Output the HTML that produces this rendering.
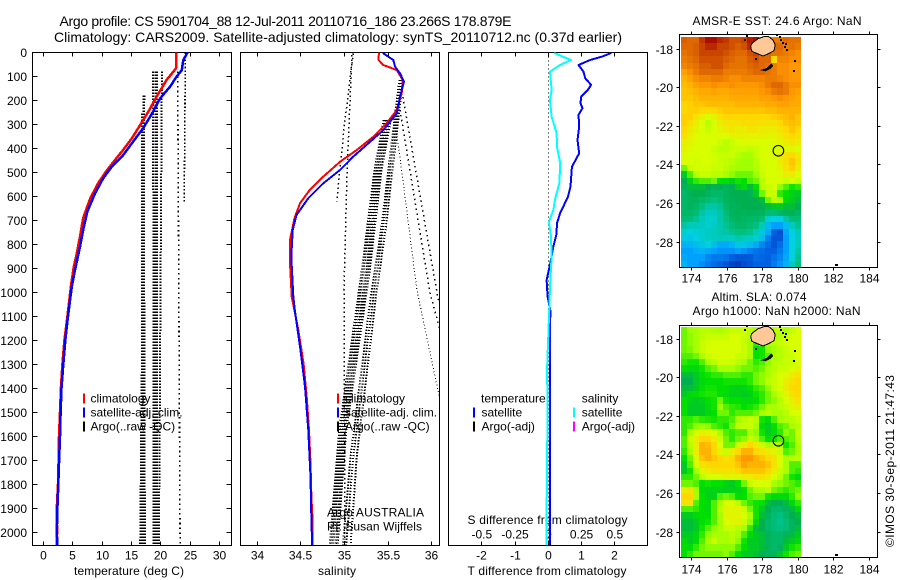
<!DOCTYPE html>
<html lang="en">
<head>
<meta charset="utf-8">
<title>Argo profile</title>
<style>
html,body{margin:0;padding:0;background:#fff;width:900px;height:580px;overflow:hidden}
svg{display:block}
text{font-family:"Liberation Sans",Arial,sans-serif;font-size:12px;fill:#000}
.t14{font-size:14px}
</style>
</head>
<body>
<svg id="fig" xmlns="http://www.w3.org/2000/svg" width="900" height="580" viewBox="0 0 900 580">
<defs>
<clipPath id="clipT"><rect x="32" y="52" width="199" height="493"/></clipPath>
<clipPath id="clipS"><rect x="240" y="52" width="199" height="493"/></clipPath>
<clipPath id="clipD"><rect x="448" y="52" width="199" height="493"/></clipPath>
<clipPath id="clipM1"><rect x="679" y="34" width="198" height="233"/></clipPath>
<clipPath id="clipM2"><rect x="679" y="325" width="198" height="232"/></clipPath>
</defs>
<text class="t14" x="59.5" y="26" textLength="452" lengthAdjust="spacing">Argo profile: CS 5901704_88 12-Jul-2011 20110716_186 23.266S 178.879E</text>
<text class="t14" x="54" y="42" textLength="568" lengthAdjust="spacing">Climatology: CARS2009. Satellite-adjusted climatology: synTS_20110712.nc (0.37d earlier)</text>
<text x="74" y="575" textLength="110" lengthAdjust="spacing">temperature (deg C)</text>
<text x="318" y="575" textLength="38" lengthAdjust="spacing">salinity</text>
<text x="467.5" y="575" textLength="159" lengthAdjust="spacing">T difference from climatology</text>
<text x="467.5" y="524" textLength="160" lengthAdjust="spacing">S difference from climatology</text>
<text x="327" y="516.5" textLength="97" lengthAdjust="spacing">Argo AUSTRALIA</text>
<text x="327" y="530.5" textLength="95" lengthAdjust="spacing">PI: Susan Wijffels</text>
<text x="692.5" y="25" textLength="169" lengthAdjust="spacing">AMSR-E SST: 24.6  Argo: NaN</text>
<text x="711.5" y="301" textLength="95" lengthAdjust="spacing">Altim. SLA: 0.074</text>
<text x="692.5" y="315" textLength="168" lengthAdjust="spacing">Argo h1000: NaN h2000: NaN</text>
<text transform="translate(894,547) rotate(-90)" textLength="172" lengthAdjust="spacing">©IMOS 30-Sep-2011 21:47:43</text>
</svg>
<script>
/* ---------- chart data ---------- */
const depthTicks = [0,100,200,300,400,500,600,700,800,900,1000,1100,1200,1300,1400,1500,1600,1700,1800,1900,2000];
const tempTicks = [0,5,10,15,20,25,30];
const salTicks = [34,34.5,35,35.5,36];
const salTickLabels = ['34','34.5','35','35.5','36'];
const tDiffTicks = [-2,-1,0,1,2];
const sDiffTicks = [-0.5,-0.25,0,0.25,0.5];
const sDiffTickLabels = ['-0.5','-0.25','0','0.25','0.5'];
const lonTicks = [174,176,178,180,182,184];
const latTicks = [18,20,22,24,26,28];

const tempClimDepth = [0,67,115,185,247,303,358,407,449,493,543,608,690,768,850,892,976,1100,1200,1300,1400,1500,1600,1700,1800,1900,2000,2054];
const tempClim = [22.7,22.6,21,19.3,17.9,16.5,15.1,13.6,12.2,10.8,9.4,8,6.8,6.25,5.6,5.2,4.7,4.1,3.6,3.25,3,2.85,2.67,2.6,2.5,2.3,2.35,2.25];
const tempSatDepth = [0,32,74,102,143,192,247,317,372,435,477,525,588,664,740,810,907,976,1100,1200,1300,1400,1500,1600,1700,1800,1900,2000,2054];
const tempSat = [24.6,23.85,23.6,22.7,21.6,19.9,18.7,17,15.3,13.4,11.65,10.2,8.8,7.5,6.8,6.25,5.4,4.85,4.2,3.75,3.4,3.1,2.95,2.85,2.7,2.55,2.4,2.3,2.4];

const salClimDepth = [0,4,32,53,74,115,171,240,296,352,407,456,518,574,629,692,782,879,1018,1157,1295,1435,1574,1712,1852,1962,2054];
const salClim = [35.395,35.395,35.39,35.445,35.6,35.667,35.656,35.6,35.484,35.33,35.14,34.95,34.757,34.6,34.49,34.425,34.375,34.375,34.395,34.47,34.53,34.566,34.593,34.61,34.62,34.635,34.635];
const salSatDepth = [0,4,32,60,88,122,185,254,324,435,490,546,608,678,740,852,1018,1074,1226,1393,1574,1768,1949,2054];
const salSat = [35.445,35.445,35.56,35.58,35.636,35.682,35.636,35.6,35.445,35.1,34.95,34.757,34.585,34.45,34.406,34.39,34.413,34.43,34.49,34.547,34.585,34.61,34.62,34.63];

const tDiffDepth = [0,4,18,32,53,81,108,136,157,185,212,233,261,310,365,421,477,560,602,671,713,755,810,879,949,1018,1074,1300,2054];
const tDiff = [1.87,1.87,1.62,1.26,0.91,1.06,1.11,1.29,1.19,0.99,0.97,1.03,0.91,0.93,0.88,0.93,0.71,0.67,0.59,0.355,0.26,0.25,0.15,0.06,-0.05,-0.02,0.06,0.05,0.05];
const sDiffDepth = [0,4,32,53,81,129,157,199,268,338,393,463,546,615,657,706,768,852,977,1060,1324,1462,1878,2054];
const sDiff = [0.05,0.05,0.17,0.088,0.013,0.02,0.025,0.013,0.025,0.063,0.065,0.09,0.083,0.05,0.038,0.005,0.02,0.025,0.013,0.008,-0.01,-0.005,-0.012,-0.012];

const argoTempDepthA = [180,2054];
const argoTempDepthB = [255,2054];
const argoTempDepthC = [80,2054];
const argoTempDepthD = [0,630];
const argoTempA1 = [17.2,16.5];
const argoTempA2 = [17.0,16.7];
const argoTempA3 = [16.8,16.9];
const argoTempA4 = [16.9,17.1];
const argoTempA5 = [17.1,17.3];
const argoTempC1 = [18.7,18.8];
const argoTempC2 = [19.1,19.1];
const argoTempC3 = [19.4,19.4];
const argoTempC4 = [20.2,19.7];
const argoTempE = [22.9,23.3];
const argoTempF = [24.2,24];

const argoSalA = [[4,35.10],[300,35.0],[622,34.91]];
const argoSalB = [[11,35.086],[490,35.03],[990,34.994],[2052,35.006]];
const argoSalC1 = [[115,35.63],[740,35.42],[1020,35.30],[1686,35.07],[2054,34.98]];
const argoSalC2 = [[115,35.65],[740,35.44],[1020,35.33],[1686,35.10],[2054,35.02]];
const argoSalC3 = [[115,35.67],[740,35.47],[1020,35.36],[1686,35.14],[2054,35.07]];
const argoSalD1 = [[282,35.45],[503,35.34],[907,35.20],[1574,34.94],[2054,34.83]];
const argoSalD2 = [[282,35.47],[503,35.36],[907,35.22],[1574,34.96],[2054,34.85]];
const argoSalD3 = [[282,35.49],[503,35.38],[907,35.25],[1574,34.98],[2054,34.87]];
const argoSalD4 = [[282,35.51],[503,35.40],[907,35.27],[1574,35.00],[2054,34.90]];
const argoSalD5 = [[282,35.53],[503,35.42],[907,35.29],[1574,35.02],[2054,34.92]];
const argoSalF1 = [[186,35.67],[1020,36.07],[1060,36.1]];
const argoSalF2 = [[336,35.6],[990,35.83],[1449,36.095]];
const argoSalF3 = [[240,35.636],[1003,35.98],[1157,36.095]];

const sstGrid = [
[93,92,92,96,99,99,97,96,94,94,95,98,99,90,90,90,90,92,91,91],
[92,92,93,95,97,97,95,95,94,93,94,97,99,92,92,92,92,90,91,90],
[91,92,93,95,95,95,95,94,93,92,92,94,95,92,92,91,91,90,89,88],
[90,91,92,94,94,94,94,93,92,91,91,93,94,92,92,79,89,89,88,88],
[89,90,91,93,93,94,94,92,91,91,91,92,93,92,91,90,88,88,87,87],
[86,88,90,92,92,92,92,90,90,90,90,91,92,92,91,90,88,88,87,87],
[84,86,88,89,89,90,90,89,88,88,89,89,89,89,90,90,89,88,87,87],
[83,84,86,87,87,88,87,87,88,87,87,87,87,88,90,92,92,90,88,88],
[82,83,84,85,85,86,85,85,86,86,86,86,86,87,88,90,91,90,87,86],
[82,82,83,84,84,84,84,84,85,85,85,85,85,86,86,87,88,87,86,85],
[80,81,82,82,83,83,83,83,83,84,84,84,84,84,85,85,86,86,85,85],
[80,81,81,80,80,80,81,82,82,82,82,82,82,82,83,83,84,84,84,84],
[81,81,78,75,72,75,78,80,80,80,80,80,80,80,80,81,82,83,84,82],
[81,79,76,72,68,72,76,78,78,78,79,79,79,78,78,78,80,82,83,82],
[80,77,74,72,70,72,74,76,77,76,76,78,77,76,76,76,78,80,82,80],
[78,75,73,72,72,72,73,72,74,74,75,74,74,75,74,74,76,78,80,78],
[75,74,73,72,72,72,70,68,70,72,73,73,73,72,72,73,74,76,77,76],
[74,73,72,72,72,70,68,68,70,70,70,69,70,72,72,72,72,73,74,72],
[73,72,72,72,72,71,70,70,70,68,66,66,70,72,72,72,76,78,79,76],
[72,72,71,72,72,71,70,69,68,66,65,65,68,72,72,72,76,79,82,78],
[62,70,71,71,71,70,70,68,66,65,65,65,67,71,72,72,74,78,81,76],
[52,60,68,70,70,68,68,66,64,62,62,62,65,70,72,72,73,75,76,72],
[48,53,58,60,60,62,55,55,53,56,55,60,62,68,72,72,72,70,72,70],
[46,50,50,50,48,47,48,46,48,52,54,50,55,68,70,72,64,60,56,58],
[44,47,48,48,46,44,44,46,48,48,48,47,52,62,70,70,58,55,53,52],
[44,46,46,44,42,40,42,46,47,48,48,48,48,50,62,68,66,54,52,50],
[44,46,44,40,36,36,38,44,46,47,48,48,48,48,50,52,52,50,50,48],
[44,44,42,36,33,34,36,42,46,47,46,47,46,46,42,42,45,47,47,45],
[42,42,38,34,32,32,36,40,45,46,45,44,44,42,32,30,30,36,42,42],
[36,34,34,33,32,33,35,38,42,44,44,42,40,34,25,20,20,26,34,38],
[31,30,31,32,33,34,35,36,38,40,40,38,34,28,22,10,7,22,30,34],
[29,28,30,32,33,33,34,33,33,35,34,33,32,26,15,8,8,20,30,33],
[24,24,26,28,30,26,22,22,24,28,28,26,22,16,12,8,12,20,30,34],
[20,20,23,24,22,20,18,18,18,20,18,15,13,12,10,10,14,20,30,36],
[22,20,20,20,16,14,14,13,10,8,8,9,12,11,10,13,16,22,30,38],
[24,20,20,17,14,12,10,8,4,3,6,8,10,10,10,14,18,24,34,40]
];

const slaGrid = [
[62,65,66,68,68,67,66,68,70,70,70,68,66,66,68,68,70,66,70,72],
[62,64,66,68,70,70,70,70,72,72,70,68,64,64,66,66,68,70,72,72],
[62,64,66,70,71,72,72,72,72,72,70,66,58,62,66,68,70,72,72,72],
[62,63,66,70,72,72,72,72,72,72,70,66,55,56,64,66,68,70,72,72],
[60,60,62,67,70,72,72,72,72,70,70,66,55,56,60,66,68,70,70,72],
[58,56,56,60,66,68,71,71,70,68,66,62,58,60,64,68,68,70,70,72],
[55,54,54,56,60,62,66,66,66,64,62,62,60,62,66,68,70,70,72,74],
[50,50,52,55,56,58,58,60,60,60,58,58,62,64,66,70,72,73,76,78],
[48,48,52,54,55,55,55,56,56,56,56,58,62,64,68,70,72,76,78,80],
[50,50,52,55,56,56,55,55,53,53,53,55,58,60,64,70,72,76,80,80],
[52,54,55,56,57,57,55,54,53,53,52,53,56,58,62,66,70,74,78,80],
[55,53,52,53,55,56,62,56,55,55,54,54,55,58,62,64,68,72,76,78],
[55,52,52,52,54,56,65,60,58,57,55,56,58,62,66,66,68,70,74,76],
[55,52,52,52,54,55,62,62,58,60,60,60,62,66,68,66,66,68,72,72],
[58,58,60,58,57,56,58,58,60,66,68,70,68,56,54,60,65,67,68,70],
[58,60,64,65,64,60,58,56,62,68,70,70,66,54,52,55,60,62,66,68],
[58,66,72,75,74,72,66,60,58,60,60,66,64,56,52,54,58,64,62,70],
[60,70,76,80,80,76,70,62,58,62,64,70,66,60,55,56,60,60,62,68],
[60,68,76,84,83,80,72,62,62,70,76,80,76,70,66,68,66,56,60,66],
[58,66,76,84,84,80,74,70,76,80,84,84,80,78,76,74,70,60,62,66],
[55,62,74,82,84,82,80,78,80,84,87,87,84,82,80,78,72,66,68,68],
[52,60,72,78,80,80,80,80,80,82,86,84,84,84,82,78,72,66,60,60],
[52,56,66,74,76,78,78,78,78,80,82,82,82,82,80,76,70,66,60,58],
[58,58,62,68,72,72,72,74,74,74,76,76,78,78,76,72,68,62,56,54],
[62,62,60,55,56,55,55,53,52,55,62,70,72,72,72,66,64,62,60,58],
[76,78,66,54,53,53,53,53,53,53,55,62,66,66,68,62,60,58,60,62],
[80,80,66,55,53,53,60,62,60,55,55,60,62,62,56,54,54,54,58,64],
[78,78,60,55,54,60,66,72,72,68,62,58,56,55,50,48,48,50,54,58],
[60,60,58,55,54,60,68,74,74,74,70,62,56,52,48,44,44,46,50,54],
[52,52,54,55,55,60,66,74,74,74,72,66,56,50,46,42,40,44,48,50],
[50,50,52,55,56,60,66,72,74,74,70,64,54,48,44,41,39,42,46,48],
[50,50,52,56,60,64,66,70,70,68,66,58,50,48,44,42,40,42,46,50],
[52,52,54,58,64,66,66,66,68,66,60,54,52,50,46,44,44,46,50,52],
[54,52,54,60,66,70,66,66,68,64,56,52,52,50,46,44,44,50,52,54],
[55,54,58,62,64,64,64,64,64,60,55,52,52,50,46,44,46,52,56,58],
[55,58,62,62,62,62,62,64,60,55,52,52,50,48,46,46,52,56,60,62]
];

const coastLon = [177.32,177.39,177.73,178.07,178.33,178.57,178.70,178.63,178.29,178.01,177.64,177.39];
const coastLat = [17.88,17.71,17.47,17.36,17.36,17.53,17.78,18.09,18.26,18.36,18.22,18.12];
const kadavuLon = [177.97,178.25,178.48,178.56,178.39,178.14];
const kadavuLat = [19.09,19.0,18.78,18.86,19.02,19.13];
const isletLon = [177.62,179.8,179.76,179.23,179.36,178.95,179.05,179.15,177.11,177.0,178.8,179.3,182.1,182.2];
const isletLat = [18.52,18.6,19.15,17.91,18.03,17.4,17.55,17.7,17.31,17.55,17.3,17.75,29.2,29.15];
const argoLon = [178.879];
const argoLat = [23.266];

/* ---------- helpers ---------- */
const NS = 'http://www.w3.org/2000/svg';
const svg = document.getElementById('fig');
function node(tag, attrs, name, parent) {
  const el = document.createElementNS(NS, tag);
  for (const k in attrs) el.setAttribute(k, attrs[k]);
  
  
  (parent || svg).appendChild(el);
  return el;
}
function label(str, x, y, anchor, name) {
  const el = node('text', {x: x, y: y, 'text-anchor': anchor}, name);
  el.textContent = str;
  return el;
}
function seg(x1, y1, x2, y2, name) {
  return node('line', {x1: x1, y1: y1, x2: x2, y2: y2, stroke: '#000', 'stroke-width': 1, 'shape-rendering': 'crispEdges'}, name);
}
function snap(v) { return Math.round(v - 0.5) + 0.5; }

/* axis functions */
const yDepth = d => 52.3 + d * 0.24;
const xTemp = t => 43.3 + t * 5.87;
const xSal = s => 257.3 + (s - 34) * 87.2;
const xTDiff = t => 548.3 + t * 33.2;
const xSDiff = s => 548.3 + s * 133;
const xLon = lon => 691.7 + (lon - 174) * 17.77;
const yLatA = lat => 49 + (lat - 18) * 19.33;
const yLatB = lat => 339 + (lat - 18) * 19.33;

function curve(depths, values, xf, color, width, clip, name) {
  const pts = depths.map((d, i) => xf(values[i]).toFixed(1) + ',' + yDepth(d).toFixed(1)).join(' ');
  return node('polyline', {points: pts, fill: 'none', stroke: color, 'stroke-width': width, 'clip-path': 'url(#' + clip + ')', 'shape-rendering': 'crispEdges', 'stroke-linejoin': 'round'}, name);
}
function dotted(depths, values, xf, clip, name, w, dash) {
  const pts = depths.map((d, i) => xf(values[i]).toFixed(1) + ',' + yDepth(d).toFixed(1)).join(' ');
  return node('polyline', {points: pts, fill: 'none', stroke: '#000', 'stroke-width': w || 2, 'stroke-dasharray': dash || '1.3 1.7', 'clip-path': 'url(#' + clip + ')', 'shape-rendering': 'crispEdges'}, name);
}
function dottedPairs(pairs, xf, clip, name, w, dash) {
  return dotted(pairs.map(p => p[0]), pairs.map(p => p[1]), xf, clip, name, w, dash);
}

/* ---------- profile axes ---------- */
const axTop = 52.5, axBottom = 545.5;
function box(l, r, name, t, b) {
  node('rect', {x: l, y: t, width: r - l, height: b - t, fill: 'none', stroke: '#000', 'stroke-width': 1, 'shape-rendering': 'crispEdges'}, name);
}
box(32.5, 231.5, 'temperature-axes-box', axTop, axBottom);
box(240.5, 439.5, 'salinity-axes-box', axTop, axBottom);
box(448.5, 647.5, 'difference-axes-box', axTop, axBottom);

depthTicks.forEach(d => {
  const y = snap(yDepth(d));
  seg(32.5, y, 37.5, y, 'depth-tick-left');
  seg(226.5, y, 231.5, y, 'depth-tick-right');
  label(String(d), 27, y + 4.5, 'end', 'depth-tick-label');
});
tempTicks.forEach(t => {
  const x = snap(xTemp(t));
  seg(x, axTop, x, axTop + 4, 'temperature-tick-top');
  seg(x, axBottom - 4, x, axBottom, 'temperature-tick-bottom');
  label(String(t), x, 559.3, 'middle', 'temperature-tick-label');
});
salTicks.forEach((s, i) => {
  const x = snap(xSal(s));
  seg(x, axTop, x, axTop + 4, 'salinity-tick-top');
  seg(x, axBottom - 4, x, axBottom, 'salinity-tick-bottom');
  label(salTickLabels[i], x, 559.3, 'middle', 'salinity-tick-label');
});
tDiffTicks.forEach(t => {
  const x = snap(xTDiff(t));
  seg(x, axTop, x, axTop + 4, 'difference-tick-top');
  seg(x, axBottom - 4, x, axBottom, 'difference-tick-bottom');
  label(String(t), x, 559.3, 'middle', 't-difference-tick-label');
});
sDiffTicks.forEach((s, i) => {
  label(sDiffTickLabels[i], xSDiff(s), 538.7, 'middle', 's-difference-tick-label');
});

/* ---------- Argo dotted profiles ---------- */
dotted(argoTempDepthA, argoTempA1, xTemp, 'clipT', 'argo-temperature-line');
dotted(argoTempDepthB, argoTempA2, xTemp, 'clipT', 'argo-temperature-line');
dotted(argoTempDepthB, argoTempA3, xTemp, 'clipT', 'argo-temperature-line');
dotted(argoTempDepthB, argoTempA4, xTemp, 'clipT', 'argo-temperature-line');
dotted(argoTempDepthA, argoTempA5, xTemp, 'clipT', 'argo-temperature-line');
dotted(argoTempDepthC, argoTempC1, xTemp, 'clipT', 'argo-temperature-line');
dotted(argoTempDepthC, argoTempC2, xTemp, 'clipT', 'argo-temperature-line');
dotted(argoTempDepthC, argoTempC3, xTemp, 'clipT', 'argo-temperature-line');
dotted(argoTempDepthC, argoTempC4, xTemp, 'clipT', 'argo-temperature-line');
dotted(argoTempDepthC, argoTempE, xTemp, 'clipT', 'argo-temperature-line', 1.6, '1.6 3.2');
dotted(argoTempDepthD, argoTempF, xTemp, 'clipT', 'argo-temperature-line', 1.6, '1.6 2');

[argoSalA, argoSalB].forEach(p => {
  dottedPairs(p, xSal, 'clipS', 'argo-salinity-line', 1.5, '1.5 3');
});
[argoSalC1, argoSalC2, argoSalC3, argoSalD1, argoSalD2, argoSalD3, argoSalD4, argoSalD5].forEach(p => {
  dottedPairs(p, xSal, 'clipS', 'argo-salinity-line');
});
dottedPairs(argoSalF1, xSal, 'clipS', 'argo-salinity-line', 1.5, '1.5 3.5');
dottedPairs(argoSalF2, xSal, 'clipS', 'argo-salinity-line', 1, '1 2.4');
dottedPairs(argoSalF3, xSal, 'clipS', 'argo-salinity-line', 1.5, '1.5 3.5');

/* zero reference line of the difference panel */
dotted([0, 2054], [0, 0], xTDiff, 'clipD', 'zero-difference-line', 1, '1 3');

/* ---------- main series ---------- */
curve(tempClimDepth, tempClim, xTemp, '#ff0000', 2.5, 'clipT', 'temperature-climatology-line');
curve(tempSatDepth, tempSat, xTemp, '#0000ff', 2.5, 'clipT', 'temperature-satellite-line');
curve(salClimDepth, salClim, xSal, '#ff0000', 2, 'clipS', 'salinity-climatology-line');
curve(salSatDepth, salSat, xSal, '#0000ff', 2, 'clipS', 'salinity-satellite-line');
curve(tDiffDepth, tDiff, xTDiff, '#0000ff', 2, 'clipD', 'temperature-difference-line');
curve(sDiffDepth, sDiff, xSDiff, '#00ffff', 2, 'clipD', 'salinity-difference-line');

/* ---------- legends ---------- */
function legend(barX, textX, str, y, color, nm) {
  node('rect', {x: barX, y: y - 9, width: 2, height: 10, fill: color, 'shape-rendering': 'crispEdges'}, nm + '-swatch');
  if (str) label(str, textX, y, 'start', nm + '-label');
}
legend(83, 90.5, 'climatology', 402.7, '#ff0000', 'temperature-legend-climatology');
legend(83, 90.5, 'satellite-adj. clim.', 416.7, '#0000ff', 'temperature-legend-satellite');
legend(83, 90.5, 'Argo(..raw -QC)', 430.7, '#000000', 'temperature-legend-argo');
legend(337, 345, 'climatology', 402.7, '#ff0000', 'salinity-legend-climatology');
legend(337, 345, 'satellite-adj. clim.', 416.7, '#0000ff', 'salinity-legend-satellite');
legend(337, 345, 'Argo(..raw -QC)', 430.7, '#000000', 'salinity-legend-argo');
label('temperature', 481, 402.5, 'start', 'difference-legend-temperature-heading');
label('salinity', 581.7, 402.5, 'start', 'difference-legend-salinity-heading');
legend(473, 481.5, 'satellite', 416.5, '#0000ff', 'difference-legend-t-satellite');
legend(473, 481.5, 'Argo(-adj)', 430.7, '#000000', 'difference-legend-t-argo');
legend(573, 581.7, 'satellite', 416.5, '#00ffff', 'difference-legend-s-satellite');
legend(573, 581.7, 'Argo(-adj)', 430.7, '#ff00ff', 'difference-legend-s-argo');

/* ---------- maps ---------- */
const colorStopPos = [0,10,20,30,40,48,55,65,72,80,87,93,100];
const colorStopVal = ['#0030b0','#0060e0','#00a0ff','#00d0e0','#00c080','#00b050','#00e000','#a0ff00','#d8ff00','#ffd800','#ff9800','#d86000','#a00000'];
function hex(c) { return [parseInt(c.slice(1,3),16), parseInt(c.slice(3,5),16), parseInt(c.slice(5,7),16)]; }
function colorOf(v) {
  let i = 0;
  while (i < colorStopPos.length - 2 && v > colorStopPos[i + 1]) i++;
  const f = Math.max(0, Math.min(1, (v - colorStopPos[i]) / (colorStopPos[i + 1] - colorStopPos[i])));
  const a = hex(colorStopVal[i]), b = hex(colorStopVal[i + 1]);
  return 'rgb(' + a.map((c, k) => Math.round(c + (b[k] - c) * f)).join(',') + ')';
}
function heatmap(grid, y0, name) {
  const rows = grid.length, cols = grid[0].length;
  const rh = 230 / rows, cw = 120 / cols;
  grid.forEach((row, r) => {
    const yA = Math.round(y0 + r * rh), yB = Math.round(y0 + (r + 1) * rh);
    row.forEach((v, c) => {
      const cell = document.createElementNS(NS, 'rect');
      cell.setAttribute('x', 681 + c * cw);
      cell.setAttribute('y', yA);
      cell.setAttribute('width', cw);
      cell.setAttribute('height', yB - yA);
      cell.setAttribute('fill', colorOf(v));
      cell.setAttribute('shape-rendering', 'crispEdges');
      
      
      svg.appendChild(cell);
    });
  });
}
function mapFurniture(yLat, boxTop, boxBottom, clip, prefix, labelY) {
  const poly = (lons, lats, fill, nm) => node('polygon', {
    points: lons.map((l, i) => xLon(l).toFixed(1) + ',' + yLat(lats[i]).toFixed(1)).join(' '),
    fill: fill, stroke: '#000', 'stroke-width': 1, 'clip-path': 'url(#' + clip + ')', 'shape-rendering': 'crispEdges'
  }, nm);
  poly(coastLon, coastLat, '#ffc896', prefix + '-viti-levu');
  poly(kadavuLon, kadavuLat, '#000', prefix + '-kadavu');
  isletLon.forEach((l, i) => {
    node('rect', {x: Math.round(xLon(l)) - 1, y: Math.round(yLat(isletLat[i])) - 1, width: 2, height: 2, fill: '#000', 'clip-path': 'url(#' + clip + ')', 'shape-rendering': 'crispEdges'}, prefix + '-islet');
  });
  node('circle', {cx: xLon(argoLon[0]), cy: yLat(argoLat[0]), r: 5.3, fill: 'none', stroke: '#000', 'stroke-width': 1.1}, prefix + '-argo-position');
  box(679.5, 877.5, prefix + '-box', boxTop, boxBottom);
  lonTicks.forEach(l => {
    const x = snap(xLon(l));
    seg(x, boxTop - 3, x, boxTop, prefix + '-lon-tick-top');
    seg(x, boxBottom, x, boxBottom + 3, prefix + '-lon-tick-bottom');
    label(String(l), x, labelY, 'middle', prefix + '-lon-tick-label');
  });
  latTicks.forEach(a => {
    const y = snap(yLat(a));
    seg(676.5, y, 679.5, y, prefix + '-lat-tick-left');
    seg(877.5, y, 880.5, y, prefix + '-lat-tick-right');
    label('-' + a, 673, y + 4.5, 'end', prefix + '-lat-tick-label');
  });
}
heatmap(sstGrid, 37, 'sst-cell');
mapFurniture(yLatA, 34.5, 267.5, 'clipM1', 'sst-map', 282.7);
heatmap(slaGrid, 327, 'sla-cell');
mapFurniture(yLatB, 325.5, 557.5, 'clipM2', 'sla-map', 573.3);
</script>
</body>
</html>
